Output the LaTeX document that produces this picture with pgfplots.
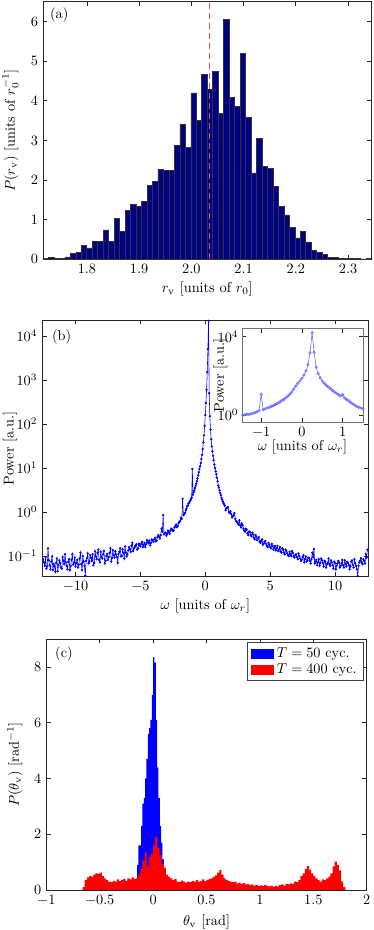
\documentclass[border=0pt]{standalone}
\usepackage{pgfplots}
\pgfplotsset{compat=1.18}
\definecolor{navybar}{rgb}{0,0,0.52}
\definecolor{insetblue}{rgb}{0.42,0.42,1}
\definecolor{dashred}{rgb}{0.88,0.3,0.3}
\begin{document}
\begin{tikzpicture}
\path[use as bounding box] (0pt,0pt) rectangle (261.8pt,651pt);
\pgfplotsset{every axis/.append style={scale only axis, anchor=south west,
  axis line style={black!85, line width=0.6pt}, tick style={black!85, line width=0.5pt},
  major tick length=3pt, tick align=inside, enlargelimits=false}}
% ---------------- (a) ----------------
\begin{axis}[at={(30.1pt,469.49pt)}, width=229.95pt, height=180.32pt,
  xmin=1.716, xmax=2.3448, ymin=0, ymax=6.5,
  xtick={1.8,1.9,2.0,2.1,2.2,2.3}, ytick={0,1,2,3,4,5,6},
  x tick label style={/pgf/number format/.cd, fixed, fixed zerofill, precision=1},
  xlabel={$r_{\rm v}$ [units of $r_0$]},
  ylabel={$P(r_{\rm v})$ [units of $r_0^{-1}$]},
  xlabel style={at={(axis description cs:0.5,-0.115)}, anchor=center},
  ylabel style={at={(axis description cs:-0.099,0.5)}, anchor=center}]
\addplot[ybar interval, fill=navybar, draw=black!80, line width=0.4pt] table {
x y
1.7160 0.03
1.7265 0.05
1.7370 0.03
1.7474 0.03
1.7579 0.06
1.7684 0.15
1.7789 0.18
1.7894 0.36
1.7998 0.29
1.8103 0.46
1.8208 0.46
1.8313 0.74
1.8418 0.46
1.8522 1.04
1.8627 0.71
1.8732 1.23
1.8837 1.38
1.8942 1.33
1.9046 1.46
1.9151 1.87
1.9256 1.96
1.9361 2.27
1.9466 2.24
1.9570 2.25
1.9675 2.87
1.9780 3.41
1.9885 2.82
1.9990 4.20
2.0094 3.51
2.0199 4.66
2.0304 4.29
2.0409 4.74
2.0514 3.68
2.0618 6.06
2.0723 4.08
2.0828 3.85
2.0933 5.19
2.1038 3.59
2.1142 2.18
2.1247 3.05
2.1352 2.34
2.1457 2.29
2.1562 1.83
2.1666 1.34
2.1771 1.12
2.1876 0.81
2.1981 0.54
2.2086 0.70
2.2190 0.44
2.2295 0.22
2.2400 0.18
2.2505 0.13
2.2610 0.04
2.2714 0.04
2.2819 0.02
2.2924 0.03
2.3029 0.02
2.3134 0.02
2.3238 0.01
2.3343 0.03
2.3448 0
};
\addplot[dashred, line width=0.75pt, dash pattern=on 4.5pt off 2.5pt] coordinates {(2.035,0) (2.035,6.5)};
\node[anchor=north west, inner sep=0pt] at (rel axis cs:0.021,0.977) {(a)};
\end{axis}
% ---------------- (b) ----------------
\begin{axis}[at={(29.61pt,247.31pt)}, width=228.2pt, height=179.7pt,
  ymode=log, xmin=-12.566, xmax=12.566, ymin=0.034, ymax=23000,
  xtick={-10,-5,0,5,10}, ytick={0.1,1,10,100,1000,10000}, yminorticks=false,
  xlabel={$\omega$ [units of $\omega_r$]}, ylabel={Power [a.u.]},
  xlabel style={at={(axis description cs:0.5,-0.114)}, anchor=center},
  ylabel style={at={(axis description cs:-0.099,0.5)}, anchor=center}]
\addplot[blue, line width=0.4pt, mark=*, mark size=0.6pt] table {
x y
-12.5000 0.085
-12.4375 0.072
-12.3750 0.060
-12.3125 0.095
-12.2500 0.052
-12.1875 0.058
-12.1250 0.150
-12.0625 0.080
-12.0000 0.062
-11.9375 0.050
-11.8750 0.075
-11.8125 0.098
-11.7500 0.048
-11.6875 0.066
-11.6250 0.058
-11.5625 0.044
-11.5000 0.070
-11.4375 0.088
-11.3750 0.045
-11.3125 0.062
-11.2500 0.080
-11.1875 0.070
-11.1250 0.055
-11.0625 0.052
-11.0000 0.095
-10.9375 0.078
-10.8750 0.066
-10.8125 0.110
-10.7500 0.072
-10.6875 0.060
-10.6250 0.050
-10.5625 0.074
-10.5000 0.085
-10.4375 0.048
-10.3750 0.060
-10.3125 0.082
-10.2500 0.110
-10.1875 0.064
-10.1250 0.070
-10.0625 0.092
-10.0000 0.058
-9.9375 0.070
-9.8750 0.082
-9.8125 0.055
-9.7500 0.064
-9.6875 0.088
-9.6250 0.120
-9.5625 0.066
-9.5000 0.048
-9.4375 0.100
-9.3750 0.075
-9.3125 0.060
-9.2500 0.036
-9.1875 0.078
-9.1250 0.090
-9.0625 0.115
-9.0000 0.068
-8.9375 0.074
-8.8750 0.105
-8.8125 0.092
-8.7500 0.078
-8.6875 0.110
-8.6250 0.062
-8.5625 0.070
-8.5000 0.128
-8.4375 0.098
-8.3750 0.085
-8.3125 0.118
-8.2500 0.140
-8.1875 0.082
-8.1250 0.072
-8.0625 0.125
-8.0000 0.095
-7.9375 0.088
-7.8750 0.110
-7.8125 0.130
-7.7500 0.068
-7.6875 0.078
-7.6250 0.100
-7.5625 0.112
-7.5000 0.082
-7.4375 0.095
-7.3750 0.118
-7.3125 0.150
-7.2500 0.075
-7.1875 0.090
-7.1250 0.135
-7.0625 0.105
-7.0000 0.092
-6.9375 0.128
-6.8750 0.108
-6.8125 0.095
-6.7500 0.070
-6.6875 0.112
-6.6250 0.125
-6.5625 0.150
-6.5000 0.098
-6.4375 0.100
-6.3750 0.142
-6.3125 0.118
-6.2500 0.088
-6.1875 0.165
-6.1250 0.120
-6.0625 0.098
-6.0000 0.110
-5.9375 0.135
-5.8750 0.160
-5.8125 0.145
-5.7500 0.125
-5.6875 0.172
-5.6250 0.200
-5.5625 0.130
-5.5000 0.150
-5.4375 0.160
-5.3750 0.175
-5.3125 0.185
-5.2500 0.140
-5.1875 0.150
-5.1250 0.190
-5.0625 0.178
-5.0000 0.165
-4.9375 0.190
-4.8750 0.210
-4.8125 0.160
-4.7500 0.180
-4.6875 0.200
-4.6250 0.160
-4.5625 0.185
-4.5000 0.230
-4.4375 0.210
-4.3750 0.195
-4.3125 0.225
-4.2500 0.175
-4.1875 0.200
-4.1250 0.240
-4.0625 0.230
-4.0000 0.210
-3.9375 0.240
-3.8750 0.260
-3.8125 0.215
-3.7500 0.225
-3.6875 0.270
-3.6250 0.300
-3.5625 0.280
-3.5000 0.250
-3.4375 0.300
-3.3750 0.420
-3.3125 0.360
-3.2500 0.850
-3.1875 0.310
-3.1250 0.330
-3.0625 0.340
-3.0000 0.290
-2.9375 0.320
-2.8750 0.380
-2.8125 0.350
-2.7500 0.320
-2.6875 0.380
-2.6250 0.420
-2.5625 0.400
-2.5000 0.370
-2.4375 0.380
-2.3750 0.450
-2.3125 0.480
-2.2500 0.520
-2.1875 0.450
-2.1250 0.480
-2.0625 0.560
-2.0000 0.600
-1.9375 0.620
-1.8750 0.750
-1.8125 0.700
-1.7500 2.000
-1.6875 0.850
-1.6250 0.900
-1.5625 0.950
-1.5000 1.100
-1.45 1.20
-1.40 1.35
-1.35 1.40
-1.30 1.55
-1.25 1.60
-1.20 1.75
-1.15 1.85
-1.10 2.00
-1.05 2.15
-1.00 9.50
-0.95 2.50
-0.90 2.80
-0.85 3.10
-0.80 3.50
-0.75 3.90
-0.70 4.40
-0.65 5.00
-0.60 5.80
-0.55 6.80
-0.50 8.00
-0.45 9.50
-0.40 11.0
-0.35 13.0
-0.30 16.0
-0.25 20.0
-0.20 27.0
-0.15 38.0
-0.10 55.0
-0.05 90.0
0.00 160
0.05 300
0.10 600
0.15 1500
0.20 5000
0.25 22000
0.30 500
0.35 150
0.40 75
0.45 45
0.50 31
0.55 24
0.60 19
0.65 15
0.70 12
0.75 10
0.80 8.4
0.85 7.2
0.90 6.0
0.95 5.0
1.00 4.0
1.05 3.6
1.10 3.1
1.15 2.7
1.20 2.4
1.25 2.1
1.30 1.9
1.35 1.75
1.40 1.6
1.45 1.5
1.5000 1.40
1.5625 1.10
1.6250 1.20
1.6875 1.25
1.7500 1.30
1.8125 1.00
1.8750 0.95
1.9375 1.05
2.0000 0.90
2.0625 0.75
2.1250 0.80
2.1875 0.85
2.2500 0.95
2.3125 0.70
2.3750 0.62
2.4375 0.60
2.5000 0.56
2.5625 0.52
2.6250 0.65
2.6875 0.50
2.7500 0.45
2.8125 0.55
2.8750 0.50
2.9375 0.42
3.0000 0.38
3.0625 0.36
3.1250 0.42
3.1875 0.40
3.2500 0.33
3.3125 0.30
3.3750 0.36
3.4375 0.35
3.5000 0.30
3.5625 0.28
3.6250 0.34
3.6875 0.31
3.7500 0.26
3.8125 0.24
3.8750 0.30
3.9375 0.27
4.0000 0.23
4.0625 0.25
4.1250 0.27
4.1875 0.21
4.2500 0.20
4.3125 0.22
4.3750 0.24
4.4375 0.18
4.5000 0.19
4.5625 0.21
4.6250 0.22
4.6875 0.19
4.7500 0.17
4.8125 0.16
4.8750 0.20
4.9375 0.18
5.0000 0.16
5.0625 0.15
5.1250 0.19
5.1875 0.17
5.2500 0.14
5.3125 0.155
5.3750 0.17
5.4375 0.135
5.5000 0.15
5.5625 0.17
5.6250 0.13
5.6875 0.14
5.7500 0.16
5.8125 0.125
5.8750 0.12
5.9375 0.15
6.0000 0.14
6.0625 0.12
6.1250 0.11
6.1875 0.14
6.2500 0.13
6.3125 0.115
6.3750 0.105
6.4375 0.10
6.5000 0.125
6.5625 0.11
6.6250 0.10
6.6875 0.13
6.7500 0.118
6.8125 0.098
6.8750 0.092
6.9375 0.105
7.0000 0.110
7.0625 0.095
7.1250 0.085
7.1875 0.115
7.2500 0.100
7.3125 0.088
7.3750 0.078
7.4375 0.082
7.5000 0.095
7.5625 0.105
7.6250 0.072
7.6875 0.085
7.7500 0.098
7.8125 0.075
7.8750 0.080
7.9375 0.092
8.0000 0.090
8.0625 0.078
8.1250 0.068
8.1875 0.085
8.2500 0.120
8.3125 0.095
8.3750 0.145
8.4375 0.068
8.5000 0.075
8.5625 0.082
8.6250 0.062
8.6875 0.072
8.7500 0.085
8.8125 0.060
8.8750 0.070
8.9375 0.088
9.0000 0.080
9.0625 0.070
9.1250 0.058
9.1875 0.078
9.2500 0.075
9.3125 0.055
9.3750 0.065
9.4375 0.070
9.5000 0.088
9.5625 0.066
9.6250 0.060
9.6875 0.080
9.7500 0.072
9.8125 0.062
9.8750 0.052
9.9375 0.075
10.0000 0.070
10.0625 0.050
10.1250 0.060
10.1875 0.068
10.2500 0.078
10.3125 0.072
10.3750 0.055
10.4375 0.060
10.5000 0.068
10.5625 0.082
10.6250 0.062
10.6875 0.055
10.7500 0.080
10.8125 0.066
10.8750 0.058
10.9375 0.074
11.0000 0.070
11.0625 0.062
11.1250 0.050
11.1875 0.058
11.2500 0.075
11.3125 0.080
11.3750 0.062
11.4375 0.055
11.5000 0.085
11.5625 0.068
11.6250 0.060
11.6875 0.050
11.7500 0.035
11.8125 0.060
11.8750 0.072
11.9375 0.078
12.0000 0.090
12.0625 0.070
12.1250 0.065
12.1875 0.085
12.2500 0.078
12.3125 0.068
12.3750 0.110
12.4375 0.092
12.5000 0.140
};
\node[anchor=north west, inner sep=0pt] at (rel axis cs:0.029,0.961) {(b)};
\end{axis}
% ---------------- (b) inset ----------------
\begin{axis}[at={(169.4pt,355.11pt)}, width=84.7pt, height=66.08pt,
  axis background/.style={fill=white},
  axis line style={black!55, line width=0.6pt},
  ymode=log, xmin=-1.47, xmax=1.5, ymin=0.41, ymax=26900,
  xtick={-1,0,1}, ytick={1,10000}, yminorticks=false,
  y tick label style={xshift=1pt},
  xlabel={$\omega$ [units of $\omega_r$]}, ylabel={Power [a.u.]},
  ylabel style={at={(axis description cs:-0.18,0.5)}, anchor=center},
  xlabel style={at={(axis description cs:0.5,-0.255)}, anchor=center}]
\addplot[insetblue, line width=0.4pt, mark=o, mark size=0.9pt] table {
x y
-1.45 1.0
-1.40 1.05
-1.35 1.1
-1.30 1.1
-1.25 1.15
-1.20 1.25
-1.15 1.35
-1.10 1.5
-1.05 1.7
-1.00 11.5
-0.95 1.9
-0.90 2.1
-0.85 2.3
-0.80 2.5
-0.75 2.8
-0.70 3.1
-0.65 3.5
-0.60 4.0
-0.55 4.6
-0.50 5.3
-0.45 6.2
-0.40 7.5
-0.35 9.2
-0.30 11.5
-0.25 15
-0.20 21
-0.15 30
-0.10 42
-0.05 56
0.00 75
0.05 110
0.10 180
0.15 380
0.20 1500
0.25 16000
0.30 1600
0.35 280
0.40 130
0.45 80
0.50 55
0.55 42
0.60 33
0.65 27
0.70 22
0.75 18
0.80 15
0.85 13
0.90 11
0.95 9.5
1.00 11
1.05 7.5
1.10 6.2
1.15 5.3
1.20 4.4
1.25 3.7
1.30 3.2
1.35 2.7
1.40 2.5
1.45 2.3
1.50 2.1
};
\end{axis}
% ---------------- (c) ----------------
\begin{axis}[at={(32.41pt,28pt)}, width=224.28pt, height=175.7pt,
  xmin=-1, xmax=2, ymin=0, ymax=9,
  xtick={-1,-0.5,0,0.5,1,1.5,2}, ytick={0,2,4,6,8},
  xlabel={$\theta_{\rm v}$ [rad]}, ylabel={$P(\theta_{\rm v})$ [rad$^{-1}$]},
  xlabel style={at={(axis description cs:0.5,-0.126)}, anchor=center},
  ylabel style={at={(axis description cs:-0.098,0.5)}, anchor=center},
  legend style={at={(axis description cs:0.9925,0.987)}, anchor=north east,
    draw=black!75, line width=0.6pt, inner xsep=3pt, inner ysep=1.5pt, row sep=-1pt,
    font=\normalsize},
  legend cell align=left]
\addplot[const plot, fill=blue, draw=none,
  legend image code/.code={\fill[blue] (0pt,-3.5pt) rectangle (16pt,3.5pt);}] table {
x y
-0.1500 0.9
-0.1375 1.6
-0.1250 1.6
-0.1125 2.3
-0.1000 3.1
-0.0875 3.3
-0.0750 4.0
-0.0625 4.7
-0.0500 5.6
-0.0375 5.8
-0.0250 6.1
-0.0125 7.0
0.0000 8.35
0.0125 8.15
0.0250 6.1
0.0375 4.4
0.0500 3.3
0.0625 2.3
0.0750 1.7
0.0875 1.1
0.1000 0.6
0.1125 0
} \closedcycle;
\addlegendentry{$T=50$ cyc.}
\addplot[const plot, fill=red, draw=none,
  legend image code/.code={\fill[red] (0pt,-3.5pt) rectangle (16pt,3.5pt);}] table {
x y
-0.66 0.10
-0.64 0.35
-0.62 0.45
-0.60 0.50
-0.58 0.48
-0.56 0.55
-0.54 0.60
-0.52 0.58
-0.50 0.62
-0.48 0.50
-0.46 0.42
-0.44 0.35
-0.42 0.30
-0.40 0.28
-0.38 0.33
-0.36 0.30
-0.34 0.38
-0.32 0.32
-0.30 0.36
-0.28 0.40
-0.26 0.33
-0.24 0.42
-0.22 0.38
-0.20 0.45
-0.18 0.40
-0.16 0.42
-0.14 0.55
-0.12 0.75
-0.10 1.05
-0.08 1.35
-0.06 0.85
-0.04 1.20
-0.02 1.30
0.00 1.60
0.02 1.90
0.04 1.50
0.06 1.25
0.08 0.95
0.10 0.80
0.12 0.55
0.14 0.48
0.16 0.42
0.18 0.35
0.20 0.40
0.22 0.30
0.24 0.28
0.26 0.34
0.28 0.30
0.30 0.26
0.32 0.30
0.34 0.28
0.36 0.32
0.38 0.30
0.40 0.35
0.42 0.30
0.44 0.33
0.46 0.38
0.48 0.32
0.50 0.36
0.52 0.40
0.54 0.42
0.56 0.48
0.58 0.52
0.60 0.62
0.62 0.72
0.64 0.55
0.66 0.42
0.68 0.35
0.70 0.32
0.72 0.30
0.74 0.28
0.76 0.30
0.78 0.24
0.80 0.26
0.82 0.22
0.84 0.25
0.86 0.20
0.88 0.22
0.90 0.18
0.92 0.20
0.94 0.16
0.96 0.18
0.98 0.15
1.00 0.17
1.02 0.14
1.04 0.18
1.06 0.15
1.08 0.13
1.10 0.16
1.12 0.12
1.14 0.14
1.16 0.13
1.18 0.18
1.20 0.20
1.22 0.16
1.24 0.22
1.26 0.20
1.28 0.24
1.30 0.22
1.32 0.30
1.34 0.28
1.36 0.35
1.38 0.50
1.40 0.60
1.42 0.75
1.44 0.86
1.46 0.72
1.48 0.60
1.50 0.50
1.52 0.42
1.54 0.35
1.56 0.30
1.58 0.38
1.60 0.35
1.62 0.42
1.64 0.48
1.66 0.60
1.68 0.85
1.70 1.02
1.72 0.90
1.74 0.70
1.76 0.30
1.78 0.10
1.80 0
} \closedcycle;
\addlegendentry{$T=400$ cyc.}
\node[anchor=north west, inner sep=0pt] at (rel axis cs:0.027,0.969) {(c)};
\end{axis}
\end{tikzpicture}
\end{document}
